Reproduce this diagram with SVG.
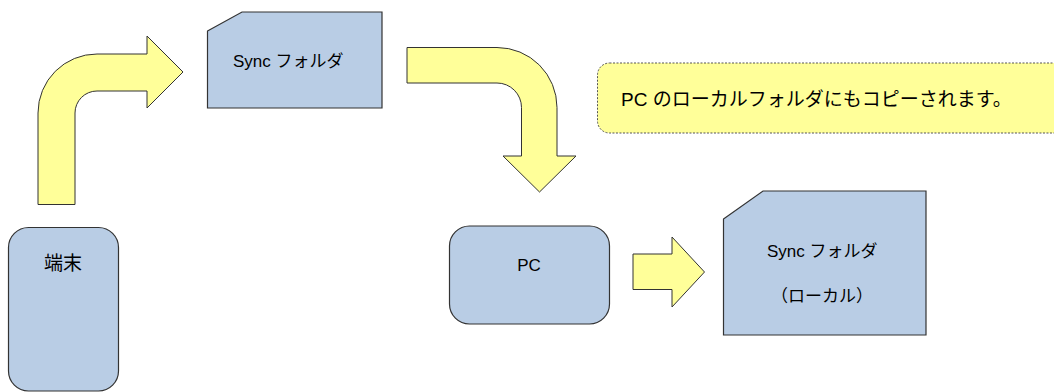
<svg xmlns="http://www.w3.org/2000/svg" width="1054" height="392" viewBox="0 0 1054 392">
<style>
.node{fill:#b9cde5;stroke:#333333;stroke-width:1.2}
.arrow{fill:#ffff99;stroke:#333333;stroke-width:1}
.note{fill:#ffff99;stroke:#555555;stroke-width:1;stroke-dasharray:2 1.5}
text{font-family:"Liberation Sans","Noto Sans CJK JP",sans-serif;font-size:17px;fill:#000000}
.big{font-size:19px}
</style>
<rect width="1054" height="392" fill="#ffffff"/>
<g id="connectors">
<path class="arrow" d="M38,204.5 L38,113 A59,59 0 0 1 97,54 L147,54 L147,36 L183,72 L147,108 L147,91 L97,91 A22,22 0 0 0 75,113 L75,204.5 Z"/>
<path class="arrow" d="M407,47.5 L497,47.5 A60,60 0 0 1 557,107.5 L557,156 L576,156 L539.5,192 L503,156 L521.5,156 L521.5,107.5 A24.5,24.5 0 0 0 497,83 L407,83 Z"/>
<path class="arrow" d="M633,254 L672,254 L672,237 L704.5,272 L672,307 L672,289.5 L633,289.5 Z"/>
</g>
<g id="node-terminal">
<rect class="node" x="8.5" y="227.5" width="110" height="163.5" rx="20"/>
<text class="big" x="63" y="270" text-anchor="middle">端末</text>
</g>
<g id="node-sync">
<path class="node" d="M207.5,31 L242,12 L382,12 L382,108 L207.5,108 Z"/>
<text x="233" y="67">Sync フォルダ</text>
</g>
<g id="node-note">
<rect class="note" x="597.5" y="63" width="480" height="70" rx="12"/>
<text class="big" x="621" y="106">PC のローカルフォルダにもコピーされます。</text>
</g>
<g id="node-pc">
<rect class="node" x="449.5" y="226" width="160" height="98" rx="20"/>
<text x="529" y="271" text-anchor="middle">PC</text>
</g>
<g id="node-sync-local">
<path class="node" d="M723.5,219 L763,191 L926,191 L926,335 L723.5,335 Z"/>
<text x="767" y="257">Sync フォルダ</text>
<text x="822" y="302" text-anchor="middle">（ローカル）</text>
</g>
</svg>
